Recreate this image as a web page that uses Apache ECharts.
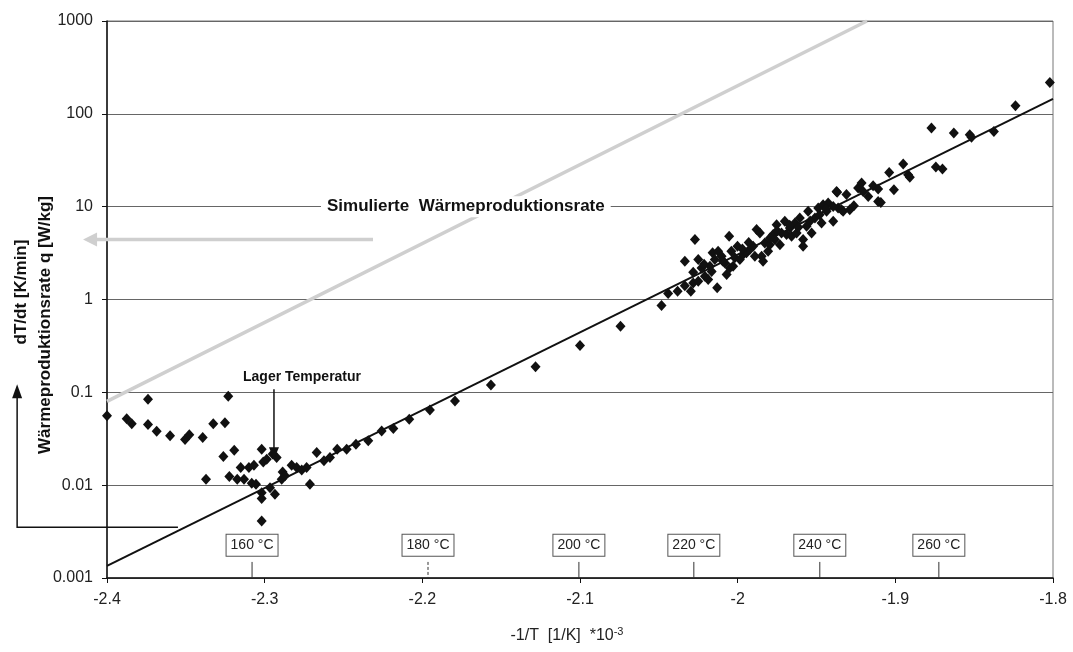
<!DOCTYPE html>
<html><head><meta charset="utf-8">
<script src="https://cdn.jsdelivr.net/npm/echarts@6/dist/echarts.min.js"></script>
<style>html,body{margin:0;padding:0;background:#fff}#c{width:1073px;height:652px}</style>
</head><body><div id="c"></div>
<script>
// Measured points: x = -1/T [1/K]*10^-3, y = dT/dt / q (log)
const pointsX = [
 -2.400,-2.374,-2.3875,-2.3843,-2.374,-2.3685,-2.360,-2.3505,-2.3478,-2.3393,-2.3326,-2.3252,-2.3231,
 -2.3372,-2.3262,-2.3193,-2.3224,-2.3174,-2.3131,-2.3082,-2.3055,-2.3152,-2.310,-2.3068,-2.3019,-2.3009,
 -2.2987,-2.2949,-2.2924,-2.3019,-2.3019,-2.2966,-2.2935,-2.3019,-2.2886,-2.2892,-2.2871,-2.2829,-2.2797,
 -2.2765,-2.2734,-2.2713,-2.267,-2.2624,-2.2586,-2.254,-2.248,-2.2421,-2.2343,-2.2258,-2.2184,-2.2083,
 -2.1952,-2.1793,-2.1565,-2.1282,-2.100,-2.0743,-2.0483,-2.0441,-2.0381,-2.0335,-2.0297,
 -2.0282,-2.025,-2.0271,-2.0335,-2.0282,-2.025,-2.0229,-2.0208,-2.0187,-2.0176,-2.0159,-2.0145,-2.013,
 -2.0124,-2.0102,-2.0081,-2.007,-2.0054,-2.005,-2.0029,-2.0018,-2.0001,-1.9986,-1.9965,-1.9944,-1.9923,
 -1.9902,-1.988,-1.9859,-1.9848,-1.9891,-1.9839,-1.9828,-1.9807,-1.9796,-1.9775,-1.9764,-1.9753,-1.9732,
 -1.9722,-1.9701,-1.969,-1.9669,-1.9658,-1.9637,-1.9626,-1.9606,-1.9585,-1.9585,-1.9563,-1.9553,-1.9531,
 -1.951,-1.9489,-1.9468,-1.9458,-1.9436,-1.9426,-1.9394,-1.9373,-1.9363,-1.9394,-1.9369,-1.9341,-1.9331,
 -1.931,-1.9289,-1.9263,-1.9236,-1.9214,-1.9204,-1.9172,-1.9141,-1.9109,-1.9109,-1.9092,-1.9039,-1.9009,
 -1.895,-1.8919,-1.8908,-1.8771,-1.8743,-1.8701,-1.8629,-1.8528,-1.8517,-1.8375,-1.8238,-1.802,
 -2.0213,-2.0165,-2.0095,-2.004,-1.997,-1.993,-1.9795,-1.975,-1.967,-1.9615,-1.954,-1.948,-1.944
];
const pointsY = [
 0.056,0.084,0.052,0.046,0.045,0.038,0.034,0.031,0.035,0.0326,0.046,0.047,0.091,
 0.0116,0.0203,0.0238,0.0124,0.0116,0.0116,0.0105,0.0102,0.0155,0.0155,0.0164,0.0244,0.0178,
 0.019,0.0216,0.0199,0.0083,0.0072,0.0094,0.008,0.0041,0.0139,0.0116,0.0126,0.0164,0.0155,
 0.0146,0.0155,0.0102,0.0225,0.0183,0.0199,0.0244,0.0244,0.0276,0.030,0.0384,0.0407,0.0512,
 0.0645,0.0807,0.12,0.189,0.32,0.516,0.862,1.16,1.23,1.41,1.23,
 1.51,1.57,4.42,2.58,1.97,2.69,2.19,1.78,1.64,2.28,3.18,2.69,1.34,
 3.31,2.92,2.48,1.86,4.8,2.19,2.28,2.81,3.74,2.69,3.05,3.18,3.45,
 3.74,5.66,5.21,2.92,2.92,2.58,4.07,3.31,3.9,5.0,4.42,6.4,3.9,
 5.21,6.95,5.0,5.9,4.8,6.67,5.21,7.55,4.42,3.74,6.14,8.9,5.21,
 7.55,9.68,6.67,10.5,8.9,10.96,6.95,14.6,9.68,10.07,14.3,9.29,8.9,
 13.5,9.29,10.2,15.9,18.0,14.6,12.9,16.8,15.5,11.4,11.1,23.4,15.2,
 28.8,22.1,20.8,70.2,26.7,25.4,62,59.5,56,64.5,122,217,
 2.4,2.0,2.6,3.3,3.5,4.1,4.6,5.5,6.3,6.0,7.0,8.2,9.5
];
// Regression line and simulated heat production rate
const fitX = [-2.4, -1.8];
const fitY = [0.00135, 145];
const simX = [-2.4, -1.918];
const simY = [0.08, 1000];
// Temperature markers on the x axis
const tempLabels = ['160 °C','180 °C','200 °C','220 °C','240 °C','260 °C'];
const tempX = [-2.308, -2.1964, -2.1007, -2.0278, -1.9479, -1.8724];

const FONT = '"Liberation Sans", Arial, sans-serif';
const chart = echarts.init(document.getElementById('c'));
const zip = (a, b) => a.map((v, i) => [v, b[i]]);

chart.setOption({
  backgroundColor: '#fff',
  animation: false,
  grid: { left: 107, top: 21, right: 20, bottom: 74, show: true, borderColor: '#777', borderWidth: 1 },
  xAxis: {
    type: 'value', min: -2.4, max: -1.8, interval: 0.1,
    axisLine: { show: true, onZero: false, lineStyle: { color: '#111', width: 1.5 } },
    axisTick: { show: true, inside: false, length: 5, lineStyle: { color: '#111' } },
    splitLine: { show: false },
    axisLabel: { color: '#222', fontSize: 16, fontFamily: FONT, margin: 14 }
  },
  yAxis: {
    type: 'log', logBase: 10, min: 0.001, max: 1000,
    axisLine: { show: true, onZero: false, lineStyle: { color: '#111', width: 1.5 } },
    axisTick: { show: true, length: 5, lineStyle: { color: '#111' } },
    minorTick: { show: false },
    splitLine: { show: true, lineStyle: { color: '#666', width: 1 } },
    axisLabel: { color: '#222', fontSize: 16, fontFamily: FONT, margin: 14,
      formatter: v => String(Number(Number(v).toPrecision(6))) }
  },
  series: [
    { type: 'line', data: zip(simX, simY), showSymbol: false, symbol: 'none',
      lineStyle: { color: '#cfcfcf', width: 3.5 }, z: 1, silent: true },
    { type: 'line', data: zip(fitX, fitY), showSymbol: false, symbol: 'none',
      lineStyle: { color: '#111', width: 2 }, z: 3, silent: true },
    { type: 'scatter', data: zip(pointsX, pointsY), symbol: 'diamond', symbolSize: [10, 11],
      itemStyle: { color: '#111', opacity: 1 }, z: 4 }
  ]
});

const P = (x, y) => chart.convertToPixel({ gridIndex: 0 }, [x, y]);
const g = [];
const seg = (a, b, stroke, w, dash) => g.push({ type: 'line', z: 20,
  shape: { x1: a[0], y1: a[1], x2: b[0], y2: b[1] },
  style: { stroke: stroke, lineWidth: w, lineDash: dash || null } });
const tri = (pts, fill) => g.push({ type: 'polygon', z: 21, shape: { points: pts }, style: { fill: fill } });

// black left arrow
{
  const yb = 0.00353;
  const corner = P(-2.457, yb), end = P(-2.355, yb), tip = P(-2.457, 0.122);
  g.push({ type: 'polyline', z: 20, shape: { points: [end, corner, [corner[0], tip[1] + 12]] },
    style: { stroke: '#111', lineWidth: 1.5, fill: null } });
  tri([[tip[0], tip[1]], [tip[0] - 5, tip[1] + 14], [tip[0] + 5, tip[1] + 14]], '#111');
}
// grey arrow pointing left
{
  const s = P(-2.2313, 4.42), t = P(-2.4152, 4.42);
  seg(s, [t[0] + 12, t[1]], '#cfcfcf', 3.5);
  tri([[t[0], t[1]], [t[0] + 14, t[1] - 7], [t[0] + 14, t[1] + 7]], '#cfcfcf');
}
// Simulierte label
{
  const c = P(-2.1724, 10);
  g.push({ type: 'text', z: 22, x: c[0], y: c[1],
    style: { text: 'Simulierte  Wärmeproduktionsrate', font: 'bold 17px ' + FONT, fill: '#111',
      align: 'center', verticalAlign: 'middle', backgroundColor: '#fff', padding: [2, 6] } });
}
// Lager Temperatur
{
  const c = P(-2.2763, 0.145);
  g.push({ type: 'text', z: 22, x: c[0], y: c[1],
    style: { text: 'Lager Temperatur', font: 'bold 14px ' + FONT, fill: '#111', align: 'center', verticalAlign: 'middle' } });
  const a = P(-2.2941, 0.1077), b = P(-2.2941, 0.0215), tip = P(-2.2941, 0.019);
  seg(a, b, '#111', 1.5);
  tri([[tip[0], tip[1]], [tip[0] - 5, tip[1] - 12], [tip[0] + 5, tip[1] - 12]], '#111');
}
// temperature boxes
tempLabels.forEach((lab, i) => {
  const c = P(tempX[i], 0.00226), t1 = P(tempX[i], 0.00149), t0 = P(tempX[i], 0.001);
  g.push({ type: 'text', z: 22, x: c[0], y: c[1],
    style: { text: lab, font: '14px ' + FONT, fill: '#222', align: 'center', verticalAlign: 'middle',
      backgroundColor: '#fff', borderColor: '#555', borderWidth: 1, padding: [4, 4, 3, 4] } });
  seg(t1, t0, '#333', 1, i === 1 ? [3, 2] : null);
});
// axis titles
g.push({ type: 'text', z: 22, x: 21, y: 292, rotation: Math.PI / 2,
  style: { text: 'dT/dt [K/min]', font: 'bold 17px ' + FONT, fill: '#111', align: 'center', verticalAlign: 'middle' } });
g.push({ type: 'text', z: 22, x: 45, y: 325, rotation: Math.PI / 2,
  style: { text: 'Wärmeproduktionsrate q [W/kg]', font: 'bold 17px ' + FONT, fill: '#111', align: 'center', verticalAlign: 'middle' } });
g.push({ type: 'text', z: 22, x: 567, y: 636,
  style: { text: '-1/T  [1/K]  *10{s|-3}', font: '16px ' + FONT, fill: '#222', align: 'center', verticalAlign: 'middle',
    rich: { s: { fontSize: 11, fontFamily: FONT, fill: '#222', verticalAlign: 'top', padding: [0, 0, 9, 0] } } } });

chart.setOption({ graphic: g });
</script></body></html>
